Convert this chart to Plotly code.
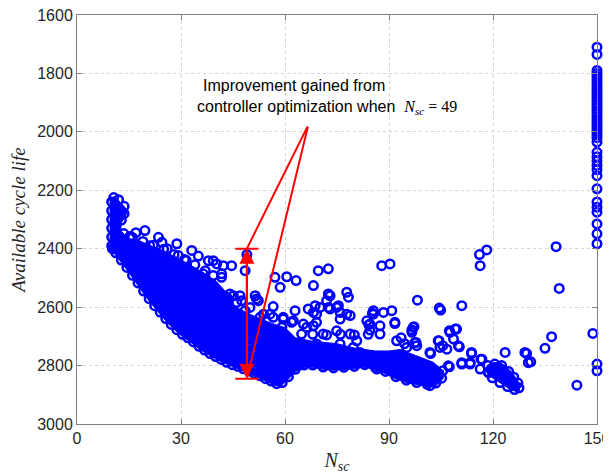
import plotly.graph_objects as go

# ---------------- data ----------------
x_ticks = [0, 30, 60, 90, 120, 150]
y_ticks = [1600, 1800, 2000, 2200, 2400, 2600, 2800, 3000]

# outline of the saturated (fully overlapping) main cloud of points
core_n = [9.4, 10.0, 10.6, 11.4, 12.4, 13.8, 14.4, 14.0, 12.8, 12.6, 14.8, 17.7, 21.0, 24.4,
          30.2, 36.9, 40.0, 42.7, 45.0, 50.0, 56.0, 60.0, 63.0, 68.0, 75.0, 80.0, 86.0, 90.0,
          93.2, 98.0, 102.8, 105.0, 105.8, 105.6, 103.6, 101.0, 98.0, 95.0, 92.0, 89.0, 86.0,
          83.0, 80.0, 77.0, 74.0, 71.0, 68.0, 65.5, 63.0, 61.0, 59.2, 57.6, 56.0, 54.4, 52.8,
          51.2, 49.6, 48.0, 46.4, 44.8, 43.2, 41.6, 40.0, 38.4, 36.8, 35.2, 33.6, 32.0, 30.4,
          28.8, 27.2, 25.6, 24.0, 22.4, 20.8, 19.2, 17.6, 16.0, 14.4, 12.8, 11.2, 10.2, 9.4]
core_life = [2245, 2228, 2222, 2228, 2240, 2258, 2272, 2290, 2310, 2338, 2365, 2372, 2388, 2405,
             2439, 2485, 2510, 2545, 2595, 2625, 2655, 2670, 2705, 2717, 2725, 2740, 2750, 2750,
             2745, 2766, 2789, 2812, 2818, 2845, 2868, 2872, 2866, 2858, 2846, 2828, 2814,
             2805, 2811, 2814, 2816, 2813, 2806, 2806, 2821, 2846, 2866, 2870, 2861, 2853, 2843,
             2835, 2827, 2819, 2811, 2805, 2797, 2787, 2777, 2767, 2755, 2742, 2727, 2713, 2701,
             2685, 2667, 2647, 2625, 2603, 2579, 2553, 2525, 2499, 2472, 2447, 2422, 2408, 2395]

# outline of the saturated cluster near N_sc = 117..128
tail_n = [118.2, 120.0, 122.3, 124.8, 127.0, 127.9, 127.0, 125.5, 123.5, 120.8, 118.6, 117.8]
tail_life = [2800, 2790, 2790, 2815, 2848, 2872, 2886, 2886, 2870, 2850, 2832, 2815]

# circles along the rim of the saturated areas (give the scalloped outline)
rim_n = [10.0, 10.0, 10.0, 10.0, 10.0, 10.0, 10.2, 11.2, 12.8, 14.4, 16.0, 17.6, 19.2, 20.8,
         22.4, 24.0, 25.6, 27.2, 28.8, 30.4, 32.0, 33.6, 35.2, 36.8, 38.4, 40.0, 41.6, 43.2,
         44.8, 46.4, 48.0, 49.6, 51.2, 52.8, 54.4, 56.0, 57.6, 59.2, 61.0, 63.0, 65.5, 68.0,
         71.0, 74.0, 77.0, 80.0, 83.0, 86.0, 89.0, 92.0, 95.0, 98.0, 101.0, 103.5, 105.2,
         105.5, 10.6, 12.0, 13.6, 13.6, 12.8, 13.5, 16.0, 19.0, 22.0, 25.0, 28.0, 31.0, 34.0,
         37.0, 118.5, 120.5, 122.5, 124.5, 126.0, 127.2, 127.5, 126.2, 124.2, 122.0, 119.8,
         118.6]
rim_life = [2240, 2270, 2300, 2330, 2360, 2390, 2400, 2414, 2439, 2464, 2491, 2517, 2545, 2571,
            2595, 2617, 2639, 2659, 2677, 2693, 2705, 2719, 2734, 2747, 2759, 2769, 2779, 2789,
            2797, 2803, 2811, 2819, 2827, 2835, 2845, 2853, 2862, 2858, 2838, 2813, 2798, 2798,
            2805, 2808, 2806, 2803, 2797, 2806, 2820, 2838, 2850, 2858, 2864, 2860, 2843,
            2818, 2225, 2232, 2255, 2280, 2302, 2348, 2362, 2375, 2388, 2402, 2420, 2437, 2455,
            2475, 2800, 2795, 2800, 2820, 2840, 2860, 2876, 2882, 2872, 2858, 2842, 2822]

# individual circles outside the saturated areas
scatter_n = [15.3, 19.6, 23.5, 28.8, 33.1, 29.2, 37.9, 39.3, 40.3, 42.2, 44.6, 36.4, 39.3, 41.7,
             41.7, 38.4, 49.0, 48.5, 44.1, 47.0, 43.2, 46.1, 49.9, 51.8, 43.2, 45.1, 47.5, 51.4,
             52.3, 48.5, 53.8, 52.8, 55.7, 49.0, 57.1, 58.6, 60.5, 63.2, 69.6, 72.5, 68.2, 72.5,
             77.8, 78.3, 73.0, 78.8, 56.6, 59.5, 62.4, 62.9, 68.2, 70.1, 73.0, 74.9, 77.8, 75.9,
             83.6, 85.5, 72.0, 69.1, 66.3, 66.7, 68.7, 69.1, 72.5, 75.4, 75.9, 85.5, 88.4, 90.8,
             84.5, 87.4, 91.7, 56.6, 59.5, 61.9, 59.1, 65.3, 68.2, 64.8, 71.0, 74.9, 78.8, 87.4,
             92.2, 95.1, 83.6, 86.5, 69.1, 75.9, 80.7, 79.7, 81.6, 83.6, 85.5, 68.0, 72.0, 76.0,
             80.0, 84.0, 85.2, 84.2, 84.5, 91.7, 96.6, 97.2, 107.4, 109.1, 108.6, 110.3, 97.8,
             104.4, 105.5, 102.0, 87.9, 90.3, 116.1, 118.2, 116.3, 138.2, 139.1, 98.2, 104.5,
             104.9, 111.0, 136.9, 135.0, 129.7, 130.9, 123.5, 113.8, 116.5, 111.0, 113.4, 107.4,
             144.2, 148.8, 97.0, 96.6, 97.5, 98.0, 104.2, 107.6, 109.5, 104.7, 106.7, 110.0,
             101.8, 107.1, 111.0, 113.8, 113.4, 116.8, 116.3, 118.7, 129.2, 130.2, 101.8, 93.5,
             94.5, 26.0, 31.5, 21.0, 17.0, 35.0, 24.5]
scatter_life = [2358, 2338, 2361, 2383, 2406, 2423, 2441, 2441, 2452, 2458, 2458, 2486, 2492, 2486,
                2498, 2532, 2420, 2475, 2555, 2561, 2578, 2584, 2601, 2572, 2566, 2561, 2578, 2561,
                2578, 2612, 2624, 2635, 2624, 2652, 2498, 2532, 2496, 2509, 2475, 2469, 2526, 2555,
                2549, 2566, 2561, 2629, 2598, 2635, 2647, 2612, 2618, 2601, 2606, 2601, 2624, 2641,
                2647, 2612, 2578, 2652, 2669, 2606, 2595, 2624, 2601, 2595, 2618, 2624, 2618, 2612,
                2658, 2664, 2652, 2635, 2641, 2652, 2669, 2658, 2664, 2692, 2692, 2681, 2692, 2692,
                2715, 2738, 2790, 2812, 2726, 2726, 2715, 2738, 2755, 2772, 2784, 2693, 2695, 2693,
                2695, 2693, 2621, 2660, 2678, 2656, 2678, 2667, 2681, 2675, 2709, 2736, 2721,
                2715, 2732, 2759, 2458, 2452, 2420, 2404, 2458, 2393, 2536, 2576, 2603,
                2610, 2595, 2701, 2741, 2759, 2787, 2755, 2759, 2778, 2795, 2795, 2804,
                2867, 2690, 2669, 2686, 2721, 2732, 2715, 2686, 2675, 2738, 2744, 2732,
                2755, 2801, 2790, 2755, 2790, 2778, 2812, 2824, 2755, 2790, 2869, 2705,
                2725, 2400, 2440, 2390, 2345, 2425, 2378]

# circles stacked at N_sc = 150
col150_life = [1710, 1735, 1790, 1800, 1810, 1820, 1830, 1840, 1850, 1860, 1870, 1880, 1890,
               1900, 1910, 1920, 1930, 1940, 1950, 1960, 1970, 1980, 1990, 2000, 2010, 2020,
               2035, 2070, 2085, 2100, 2115, 2130, 2150, 2195, 2240, 2258, 2275, 2315, 2349,
               2383, 2795, 2818]
col150_n = 150

# annotation values
arrow_n = 49
arrow_top = 2400
arrow_bottom = 2845
note_n = 66.7
note_life = 1977

BLUE = "#0000FF"
RED = "#FF0000"

fig = go.Figure()

for xs, ys in [(core_n, core_life), (tail_n, tail_life)]:
    fig.add_trace(go.Scatter(x=xs, y=ys, mode="lines", fill="toself", fillcolor=BLUE,
                             line=dict(color=BLUE, width=1), hoverinfo="skip",
                             showlegend=False))

marker = dict(symbol="circle-open", size=8.5, color=BLUE, line=dict(width=2.5, color=BLUE))
for xs, ys in [(rim_n, rim_life), (scatter_n, scatter_life),
               ([col150_n] * len(col150_life), col150_life)]:
    fig.add_trace(go.Scatter(x=xs, y=ys, mode="markers", marker=marker,
                             showlegend=False, cliponaxis=False))

# caps of the improvement bar (drawn as an error bar)
mid = (arrow_top + arrow_bottom) / 2
fig.add_trace(go.Scatter(x=[arrow_n], y=[mid], mode="markers",
                         marker=dict(size=1, color="rgba(0,0,0,0)"),
                         error_y=dict(type="data", symmetric=True,
                                      array=[(arrow_bottom - arrow_top) / 2],
                                      color=RED, thickness=2, width=11.5),
                         showlegend=False, hoverinfo="skip"))

ann = []
for end in (arrow_top, arrow_bottom):
    ann.append(dict(x=arrow_n, y=end, ax=arrow_n, ay=mid, xref="x", yref="y", axref="x", ayref="y",
                    text="", showarrow=True, arrowhead=2, arrowsize=1.5, arrowwidth=2,
                    arrowcolor=RED, standoff=0, startstandoff=0))
    ann.append(dict(x=arrow_n, y=end, ax=note_n, ay=note_life, xref="x", yref="y", axref="x",
                    ayref="y", text="", showarrow=True, arrowhead=0, arrowwidth=2,
                    arrowcolor=RED, standoff=0))

ann.append(dict(x=62.6, y=1840, xref="x", yref="y", text="Improvement gained from",
                showarrow=False, xanchor="center", yanchor="middle",
                font=dict(family="Liberation Sans, Arial", size=16, color="#000000")))
ann.append(dict(x=34.0, y=1916, xref="x", yref="y",
                text="controller optimization when  <span style='font-family:Liberation Serif'>"
                     "<i>N</i><sub><i>sc</i></sub> = 49</span>",
                showarrow=False, xanchor="left", yanchor="middle",
                font=dict(family="Liberation Sans, Arial", size=16, color="#000000")))

axis_common = dict(showline=True, linecolor="#808080", linewidth=1, mirror="ticks",
                   ticks="inside", ticklen=5, tickcolor="#808080", showgrid=True,
                   gridcolor="#d4d4d4", griddash="dot", gridwidth=1, zeroline=False,
                   automargin=False, ticklabeloverflow="allow",
                   tickfont=dict(family="Liberation Sans, Arial", size=16, color="#262626"))

# the page body adds an 8 px offset, so the figure is 8 px smaller on each leading side
fig.update_layout(
    width=603, height=466,
    margin=dict(l=69, r=14, t=7, b=50),
    plot_bgcolor="white", paper_bgcolor="white",
    xaxis=dict(range=[0, 150], tickvals=x_ticks, **axis_common,
               title=dict(text="<i>N</i><sub><i>sc</i></sub>", standoff=8,
                          font=dict(family="Liberation Serif", size=20, color="#262626"))),
    yaxis=dict(range=[3000, 1600], tickvals=y_ticks, **axis_common,
               title=dict(text="<i>Available cycle life</i>", standoff=14,
                          font=dict(family="Liberation Serif", size=19, color="#262626"))),
    annotations=ann,
)

fig.write_html("out.html")
